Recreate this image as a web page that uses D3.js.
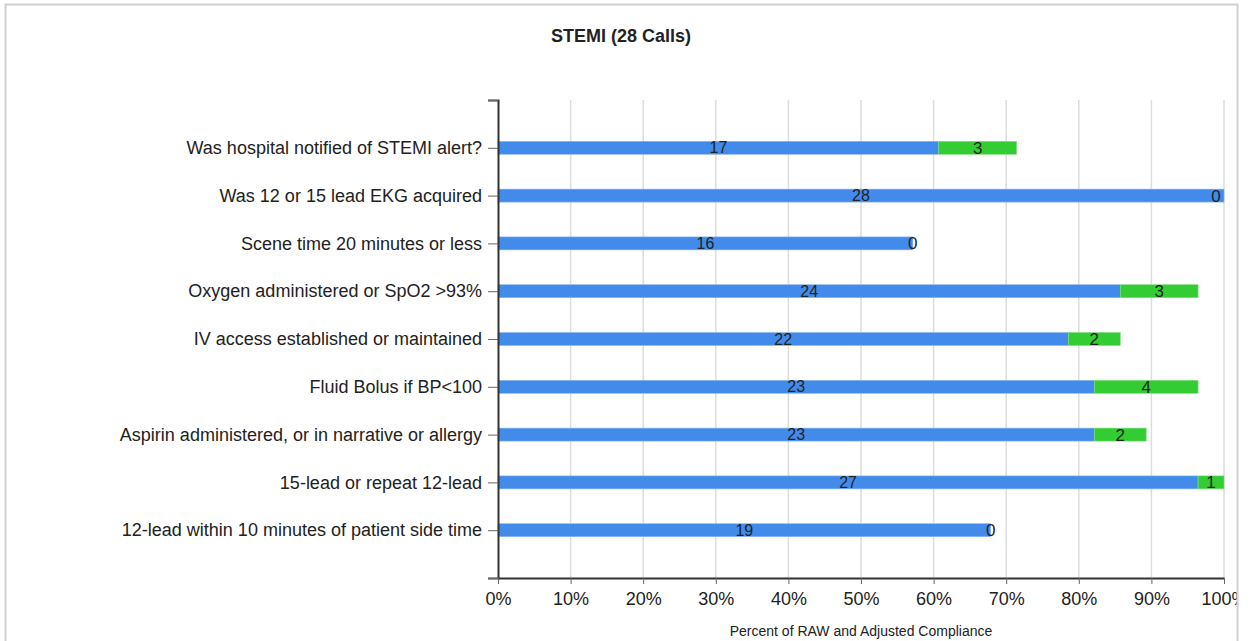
<!DOCTYPE html>
<html>
<head>
<meta charset="utf-8">
<script src="https://cdn.jsdelivr.net/npm/d3@7"></script>
<style>
  body { margin: 0; background: #fff; }
  text { font-family: "Liberation Sans", Arial, sans-serif; fill: #222; }
</style>
</head>
<body>
<svg width="1251" height="641"></svg>
<script>
// The svg
const svg = d3.select('svg'),
  width = +svg.attr('width'),
  height = +svg.attr('height');

// Data
const totalCalls = 28;
const questions = [
  'Was hospital notified of STEMI alert?',
  'Was 12 or 15 lead EKG acquired',
  'Scene time 20 minutes or less',
  'Oxygen administered or SpO2 >93%',
  'IV access established or maintained',
  'Fluid Bolus if BP<100',
  'Aspirin administered, or in narrative or allergy',
  '15-lead or repeat 12-lead',
  '12-lead within 10 minutes of patient side time'
];
const rawCounts = [17, 28, 16, 24, 22, 23, 23, 27, 19];
const adjustedCounts = [3, 0, 0, 3, 2, 4, 2, 1, 0];
const xTicks = [0, 0.1, 0.2, 0.3, 0.4, 0.5, 0.6, 0.7, 0.8, 0.9, 1];

// Frame, clipped like the original export
svg.append('clipPath').attr('id', 'frame')
  .append('rect').attr('x', 5).attr('y', 4).attr('width', 1232).attr('height', 660);
const root = svg.append('g').attr('clip-path', 'url(#frame)');
svg.append('rect')
  .attr('x', 5.5).attr('y', 4.5).attr('width', 1232).attr('height', 660)
  .attr('fill', 'none').attr('stroke', '#d0d0d0').attr('stroke-width', 2);

// Scales
const x = d3.scaleLinear().domain([0, 1]).range([498, 1224]);
const y = d3.scaleLinear().domain([0, questions.length + 1]).range([100, 578]);
const barH = 13;

// Title
root.append('text')
  .attr('x', 621).attr('y', 42)
  .attr('text-anchor', 'middle')
  .style('font-size', '18px').style('font-weight', 'bold')
  .text('STEMI (28 Calls)');

// Gridlines
root.append('g').selectAll('line')
  .data(xTicks.slice(1))
  .enter().append('line')
  .attr('x1', d => x(d)).attr('x2', d => x(d))
  .attr('y1', y(0)).attr('y2', y(questions.length + 1))
  .attr('stroke', '#dddddd').attr('stroke-width', 1.5);

// Bars
const rows = root.append('g').selectAll('g')
  .data(questions.map((q, i) => ({ q: q, raw: rawCounts[i], adj: adjustedCounts[i], i: i })))
  .enter().append('g');

rows.append('rect')
  .attr('x', x(0))
  .attr('y', d => y(d.i + 1) - barH / 2)
  .attr('width', d => x(d.raw / totalCalls) - x(0))
  .attr('height', barH)
  .attr('fill', '#428bea')
  .attr('stroke', '#8db8f2').attr('stroke-width', 0.6);

rows.filter(d => d.adj > 0).append('rect')
  .attr('x', d => x(d.raw / totalCalls))
  .attr('y', d => y(d.i + 1) - barH / 2)
  .attr('width', d => x((d.raw + d.adj) / totalCalls) - x(d.raw / totalCalls))
  .attr('height', barH)
  .attr('fill', '#33cc33')
  .attr('stroke', '#7fe07f').attr('stroke-width', 0.6);

// Raw labels
rows.append('text')
  .attr('x', d => (x(0) + x(d.raw / totalCalls)) / 2)
  .attr('y', d => y(d.i + 1) + 5.5)
  .attr('text-anchor', 'middle')
  .style('font-size', '16px')
  .text(d => d.raw);

// Adjusted labels
rows.append('text')
  .attr('x', function (d) {
    const a = x(d.raw / totalCalls), b = x((d.raw + d.adj) / totalCalls);
    if (d.adj > 0) return (a + b) / 2;
    return Math.min(a, x(1) - 8);
  })
  .attr('y', d => y(d.i + 1) + 6)
  .attr('text-anchor', 'middle')
  .style('font-size', '17px')
  .text(d => d.adj);

// Y axis
const yAxis = d3.axisLeft(y)
  .tickValues(d3.range(0, questions.length + 2))
  .tickSize(10)
  .tickFormat(d => (d >= 1 && d <= questions.length) ? questions[d - 1] : '');
const gy = root.append('g').attr('transform', `translate(${x(0)},0)`).call(yAxis);
gy.select('.domain').attr('stroke', '#333').attr('stroke-width', 2);
gy.selectAll('.tick line').attr('stroke', '#666');
gy.selectAll('.tick text')
  .attr('x', -16)
  .style('font-size', '18px')
  .style('font-family', '"Liberation Sans", Arial, sans-serif')
  .attr('fill', '#222');

// X axis
const xAxis = d3.axisBottom(x)
  .tickValues(xTicks)
  .tickSize(6)
  .tickSizeOuter(0)
  .tickFormat(d3.format('.0%'));
const gx = root.append('g').attr('transform', `translate(0,${y(questions.length + 1)})`).call(xAxis);
gx.select('.domain').attr('stroke', '#333').attr('stroke-width', 2);
gx.selectAll('.tick line').attr('stroke', '#666');
gx.selectAll('.tick text')
  .attr('y', 14)
  .style('font-size', '18px')
  .style('font-family', '"Liberation Sans", Arial, sans-serif')
  .attr('fill', '#222');

// X axis title
root.append('text')
  .attr('x', 861).attr('y', 636)
  .attr('text-anchor', 'middle')
  .style('font-size', '14px')
  .text('Percent of RAW and Adjusted Compliance');
</script>
</body>
</html>
